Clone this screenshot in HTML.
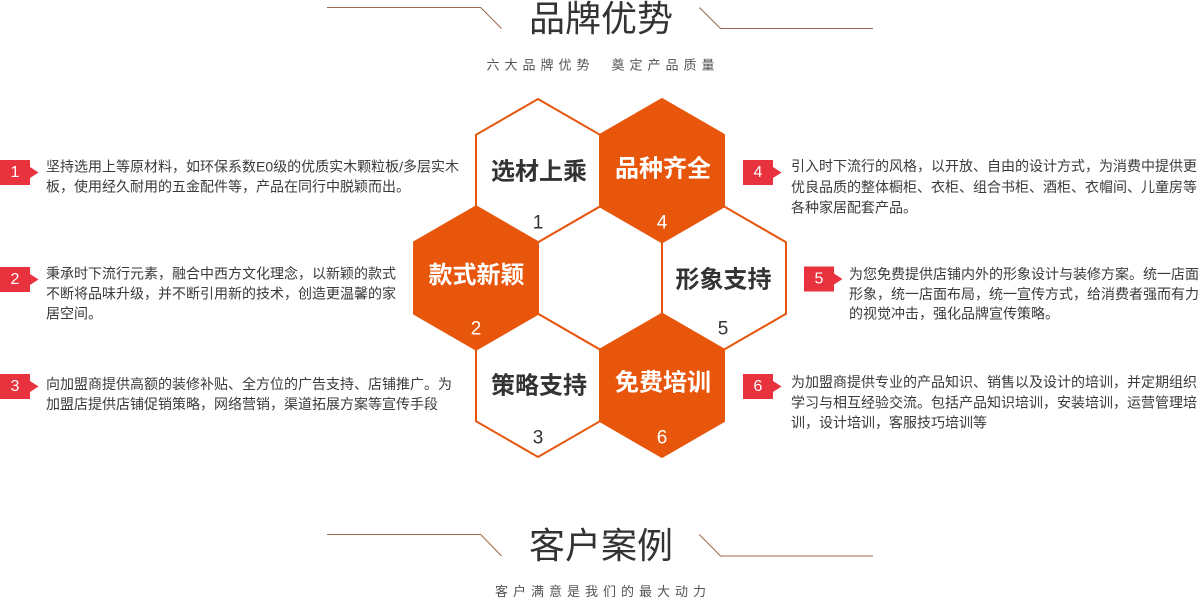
<!DOCTYPE html>
<html>
<head>
<meta charset="utf-8">
<style>
  html,body{margin:0;padding:0;background:#fff;}
  body{width:1200px;height:598px;overflow:hidden;}
  svg{display:block;}
  .t{font-family:"Liberation Sans","Noto Sans CJK SC",sans-serif;}
</style>
</head>
<body>
<svg width="1200" height="598" viewBox="0 0 1200 598" xmlns="http://www.w3.org/2000/svg">
  <!-- Title top -->
  <polyline points="327,7.5 480.7,7.5 501.5,28.5" fill="none" stroke="#a06a4e" stroke-width="1.1"/>
  <polyline points="699.3,7.5 720.5,28.5 873,28.5" fill="none" stroke="#a06a4e" stroke-width="1.1"/>
  <text class="t" x="601" y="18.5" font-size="36" fill="#333" text-anchor="middle" dominant-baseline="central">品牌优势</text>
  <text class="t" x="486.5" y="65" font-size="13" fill="#555" letter-spacing="5" dominant-baseline="central">六大品牌优势</text>
  <text class="t" x="611.5" y="65" font-size="13" fill="#555" letter-spacing="5" dominant-baseline="central">奠定产品质量</text>

  <!-- Hexagons: white ones -->
  <g stroke="#e8560c" stroke-width="2" stroke-linejoin="miter">
    <polygon points="600,206.4 662,242.2 662,313.8 600,349.6 538,313.8 538,242.2" fill="#fff"/>
    <polygon points="538,99 600,134.8 600,206.4 538,242.2 476,206.4 476,134.8" fill="#fff"/>
    <polygon points="724,206.4 786,242.2 786,313.8 724,349.6 662,313.8 662,242.2" fill="#fff"/>
    <polygon points="538,313.8 600,349.6 600,421.2 538,457 476,421.2 476,349.6" fill="#fff"/>
    <polygon points="662,99 724,134.8 724,206.4 662,242.2 600,206.4 600,134.8" fill="#e8560c"/>
    <polygon points="476,206.4 538,242.2 538,313.8 476,349.6 414,313.8 414,242.2" fill="#e8560c"/>
    <polygon points="662,313.8 724,349.6 724,421.2 662,457 600,421.2 600,349.6" fill="#e8560c"/>
  </g>

  <!-- Hex labels -->
  <g class="t" font-size="24" font-weight="bold" text-anchor="middle" dominant-baseline="central">
    <text x="539" y="172" fill="#333">选材上乘</text>
    <text x="663" y="169" fill="#fff">品种齐全</text>
    <text x="476.5" y="275.5" fill="#fff">款式新颖</text>
    <text x="723.5" y="280" fill="#333">形象支持</text>
    <text x="539" y="386" fill="#333">策略支持</text>
    <text x="663" y="383" fill="#fff">免费培训</text>
  </g>
  <g class="t" font-size="19" text-anchor="middle" dominant-baseline="central">
    <text x="538" y="223" fill="#333">1</text>
    <text x="662" y="223" fill="#fff">4</text>
    <text x="476" y="329" fill="#fff">2</text>
    <text x="723" y="329" fill="#333">5</text>
    <text x="538" y="438" fill="#333">3</text>
    <text x="662" y="438" fill="#fff">6</text>
  </g>

  <!-- Badges -->
  <g fill="#e8323d">
    <rect x="0" y="160" width="30" height="25"/><polygon points="30,167 38.5,172.5 30,178"/>
    <rect x="0" y="267" width="30" height="25"/><polygon points="30,274 38.5,279.5 30,285"/>
    <rect x="0" y="374" width="30" height="25"/><polygon points="30,381 38.5,386.5 30,392"/>
    <rect x="743" y="160" width="30" height="25"/><polygon points="773,167 781.5,172.5 773,178"/>
    <rect x="804" y="266.5" width="30" height="25"/><polygon points="834,273.5 842.5,279 834,284.5"/>
    <rect x="743" y="374" width="30" height="25"/><polygon points="773,381 781.5,386.5 773,392"/>
  </g>
  <g class="t" font-size="16" fill="#fff" text-anchor="middle" dominant-baseline="central">
    <text x="15" y="172.5">1</text>
    <text x="15" y="279.5">2</text>
    <text x="15" y="386.5">3</text>
    <text x="758" y="172.5">4</text>
    <text x="819" y="279">5</text>
    <text x="758" y="386.5">6</text>
  </g>

  <!-- Side texts -->
  <g class="t" font-size="14" fill="#3a3a3a" dominant-baseline="central">
    <text x="46" y="166.7">坚持选用上等原材料，如环保系数E0级的优质实木颗粒板/多层实木</text>
    <text x="46" y="186.7">板，使用经久耐用的五金配件等，产品在同行中脱颖而出。</text>

    <text x="46" y="273.5">秉承时下流行元素，融合中西方文化理念，以新颖的款式</text>
    <text x="46" y="293.5">不断将品味升级，并不断引用新的技术，创造更温馨的家</text>
    <text x="46" y="313.5">居空间。</text>

    <text x="46" y="384">向加盟商提供高额的装修补贴、全方位的广告支持、店铺推广。为</text>
    <text x="46" y="404">加盟店提供店铺促销策略，网络营销，渠道拓展方案等宣传手段</text>

    <text x="791" y="166">引入时下流行的风格，以开放、自由的设计方式，为消费中提供更</text>
    <text x="791" y="187">优良品质的整体橱柜、衣柜、组合书柜、酒柜、衣帽间、儿童房等</text>
    <text x="791" y="207.7">各种家居配套产品。</text>

    <text x="849" y="274">为您免费提供店铺内外的形象设计与装修方案。统一店面</text>
    <text x="849" y="294">形象，统一店面布局，统一宣传方式，给消费者强而有力</text>
    <text x="849" y="313.5">的视觉冲击，强化品牌宣传策略。</text>

    <text x="791" y="382">为加盟商提供专业的产品知识、销售以及设计的培训，并定期组织</text>
    <text x="791" y="402.3">学习与相互经验交流。包括产品知识培训，安装培训，运营管理培</text>
    <text x="791" y="422.3">训，设计培训，客服技巧培训等</text>
  </g>

  <!-- Title bottom -->
  <polyline points="327,534.5 480.7,534.5 501.5,556" fill="none" stroke="#a06a4e" stroke-width="1.1"/>
  <polyline points="699.3,534.5 720.5,556 873,556" fill="none" stroke="#a06a4e" stroke-width="1.1"/>
  <text class="t" x="601" y="545.5" font-size="36" fill="#333" text-anchor="middle" dominant-baseline="central">客户案例</text>
  <text class="t" x="495" y="591.5" font-size="13" fill="#555" letter-spacing="5" dominant-baseline="central">客户满意是我们的最大动力</text>
</svg>
</body>
</html>
